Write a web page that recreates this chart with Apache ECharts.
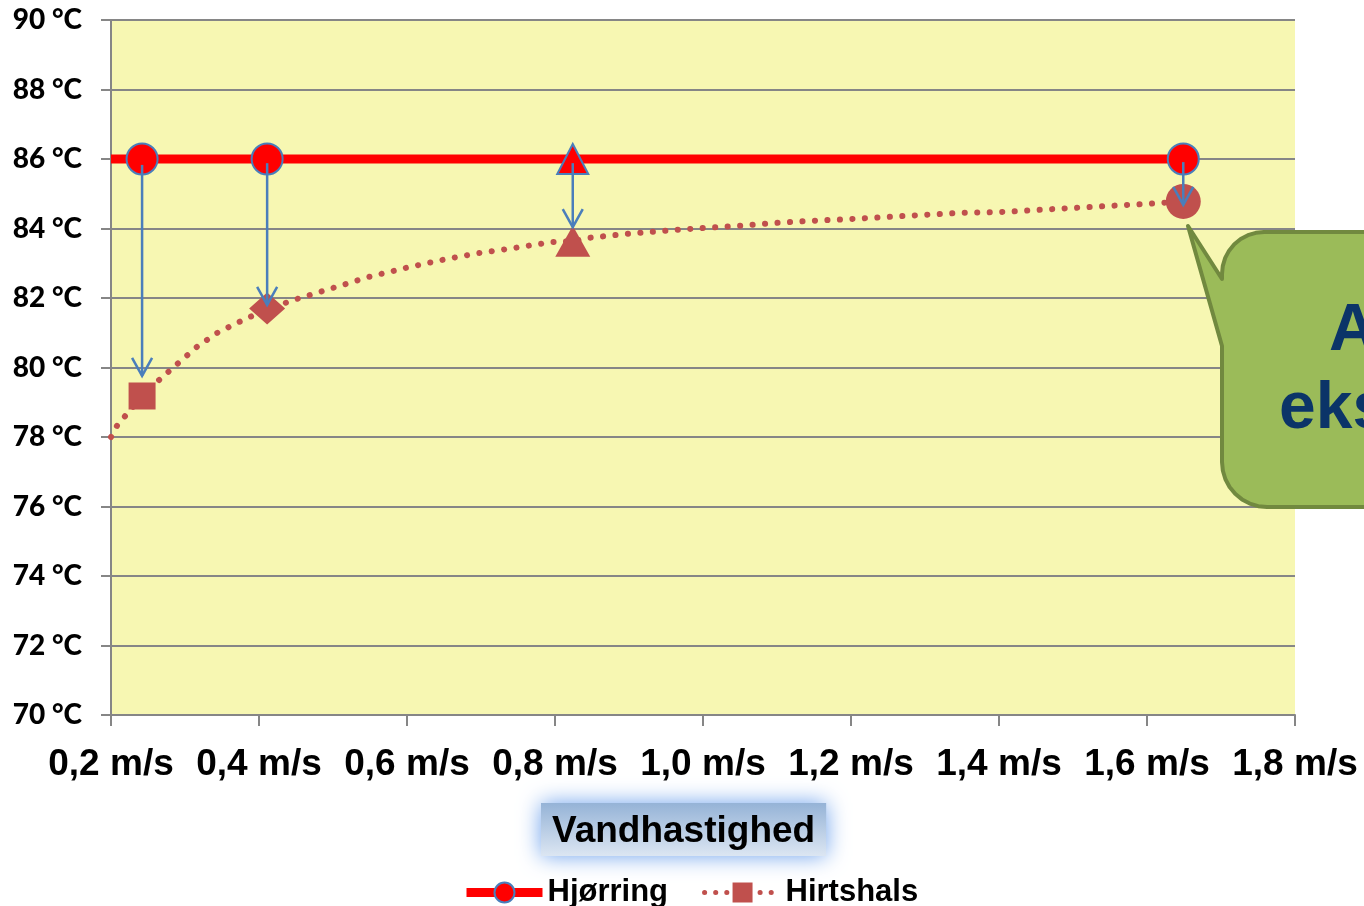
<!DOCTYPE html>
<html lang="da">
<head>
    <meta charset="UTF-8">
    <title>Vandhastighed</title>
    <script src="https://cdn.jsdelivr.net/npm/echarts@6/dist/echarts.min.js"></script>
    <style>
        html, body {
            margin: 0;
            padding: 0;
            background: #fff;
        }

        #chart {
            width: 1364px;
            height: 906px;
        }
    </style>
</head>

<body>
<div id="chart"></div>

<script>
    // målepunkter (vandhastighed i m/s)
    const speeds = [0.242, 0.411, 0.824, 1.649];
    const hjoerring = [86, 86, 86, 86];
    const hirtshals = [79.18, 81.7, 83.63, 84.78];
    const hjoerringSymbols = ['circle', 'circle', 'triangle', 'circle'];
    const hirtshalsSymbols = ['rect', 'diamond', 'triangle', 'circle'];
    const hirtshalsSizes = [27, [36, 32], [35, 31], 35];

    // Hjørring-linjen starter ved aksens begyndelse
    const hjoerringLineStart = [0.2, 86];

    // tendenslinje for Hirtshals
    const trendX = [0.200, 0.208, 0.219, 0.242, 0.265, 0.291, 0.316, 0.343, 0.373, 0.411, 0.451, 0.500,
        0.547, 0.597, 0.646, 0.696, 0.745, 0.795, 0.845, 0.895, 0.946, 0.996, 1.046, 1.096, 1.146, 1.197,
        1.247, 1.297, 1.347, 1.399, 1.449, 1.499, 1.549, 1.600, 1.649];
    const trendY = [78.00, 78.32, 78.60, 79.18, 79.64, 80.13, 80.59, 80.99, 81.31, 81.68, 81.97, 82.29,
        82.60, 82.86, 83.09, 83.29, 83.44, 83.61, 83.73, 83.84, 83.93, 84.01, 84.07, 84.16, 84.22, 84.27,
        84.33, 84.39, 84.45, 84.47, 84.53, 84.59, 84.65, 84.71, 84.78];

    // pile fra Hjørring ned til Hirtshals (°C)
    const arrowFrom = [85.83, 85.88, 85.88, 85.91];
    const arrowTo = [79.76, 81.80, 84.04, 84.68];

    // aksetekster
    const xLabels = ['0,2 m/s', '0,4 m/s', '0,6 m/s', '0,8 m/s', '1,0 m/s', '1,2 m/s', '1,4 m/s', '1,6 m/s', '1,8 m/s'];
    const yLabels = ['70 °C', '72 °C', '74 °C', '76 °C', '78 °C', '80 °C', '82 °C', '84 °C', '86 °C', '88 °C', '90 °C'];

    const axisGray = '#868686';
    const arrowBlue = '#4A7EBB';

    // Hjørring: linje + markører
    const hjoerringData = [{value: hjoerringLineStart, symbol: 'none'}].concat(
        speeds.map((x, i) => ({
            value: [x, hjoerring[i]],
            symbol: hjoerringSymbols[i],
            symbolSize: hjoerringSymbols[i] === 'triangle' ? [31, 30] : 31
        }))
    );

    // Hirtshals: prikket tendenslinje + markører i én serie
    const hirtshalsData = trendX.map((x, i) => ({value: [x, trendY[i]], symbol: 'none'}))
        .concat(speeds.map((x, i) => ({
            value: [x, hirtshals[i]],
            symbol: hirtshalsSymbols[i],
            symbolSize: hirtshalsSizes[i]
        })))
        .sort((a, b) => a.value[0] - b.value[0]);

    // kvartcirkel til de runde hjørner på talebobblen
    function arc(cx, cy, r, a0, a1) {
        const pts = [];
        for (let k = 0; k <= 8; k++) {
            const a = (a0 + (a1 - a0) * k / 8) * Math.PI / 180;
            pts.push([cx + r * Math.cos(a), cy + r * Math.sin(a)]);
        }
        return pts;
    }

    const bubblePoints = [[1420, 232]]
        .concat(arc(1264, 274, 42, -90, -180))
        .concat([[1222, 279], [1188, 226], [1222, 346]])
        .concat(arc(1267, 462, 45, 180, 90))
        .concat([[1420, 507]]);

    const chart = echarts.init(document.getElementById('chart'));
    chart.setOption({
        animation: false,
        backgroundColor: '#fff',
        grid: {
            left: 111,
            right: 69,
            top: 20,
            bottom: 191,
            show: true,
            backgroundColor: '#F7F7B2',
            borderWidth: 0
        },
        title: {
            text: 'Vandhastighed',
            left: 541,
            top: 803,
            padding: [10, 11, 6, 11],
            backgroundColor: {
                type: 'linear', x: 0, y: 0, x2: 0, y2: 1,
                colorStops: [{offset: 0, color: '#95B3D7'}, {offset: 1, color: '#DCE6F2'}]
            },
            shadowBlur: 22,
            shadowColor: 'rgba(100, 155, 235, 0.95)',
            textStyle: {
                fontFamily: 'Liberation Sans, Arial, sans-serif',
                fontSize: 37,
                fontWeight: 'bold',
                color: '#000'
            }
        },
        legend: {
            left: 457,
            top: 872,
            itemWidth: 76,
            itemHeight: 25,
            itemGap: 34,
            textStyle: {
                fontFamily: 'Liberation Sans, Arial, sans-serif',
                fontSize: 31,
                fontWeight: 'bold',
                color: '#000'
            },
            data: [
                {name: 'Hjørring', lineStyle: {width: 9}},
                {name: 'Hirtshals', lineStyle: {width: 5, type: [0.1, 11], cap: 'round'}}
            ]
        },
        xAxis: {
            type: 'value',
            min: 0.2,
            max: 1.8,
            interval: 0.2,
            axisLine: {show: true, lineStyle: {color: axisGray, width: 2}},
            axisTick: {show: true, length: 11, lineStyle: {color: axisGray, width: 2}},
            splitLine: {show: false},
            axisLabel: {
                margin: 31,
                showMinLabel: true,
                showMaxLabel: true,
                fontFamily: 'Liberation Sans, Arial, sans-serif',
                fontSize: 37,
                fontWeight: 'bold',
                color: '#000',
                formatter: v => xLabels[Math.round((v - 0.2) / 0.2)]
            }
        },
        yAxis: {
            type: 'value',
            min: 70,
            max: 90,
            interval: 2,
            axisLine: {show: true, lineStyle: {color: axisGray, width: 2}},
            axisTick: {show: true, length: 10, lineStyle: {color: axisGray, width: 2}},
            splitLine: {show: true, lineStyle: {color: axisGray, width: 2}},
            axisLabel: {
                margin: 29,
                fontFamily: 'Lato, Liberation Sans, sans-serif',
                fontSize: 28,
                fontWeight: 900,
                color: '#000',
                formatter: v => yLabels[Math.round((v - 70) / 2)]
            }
        },
        series: [
            {
                name: 'Hirtshals',
                type: 'line',
                z: 2,
                symbol: 'rect',
                showAllSymbol: true,
                data: hirtshalsData,
                lineStyle: {color: '#C0504D', width: 6, type: [0.1, 12.4], cap: 'round'},
                itemStyle: {color: '#C0504D'}
            },
            {
                name: 'Hjørring',
                type: 'line',
                z: 3,
                symbol: 'circle',
                showAllSymbol: true,
                data: hjoerringData,
                lineStyle: {color: '#FF0000', width: 9},
                itemStyle: {color: '#FF0000', borderColor: arrowBlue, borderWidth: 2}
            },
            {
                // pile
                type: 'custom',
                z: 5,
                silent: true,
                data: speeds.map((x, i) => [x, arrowFrom[i], arrowTo[i]]),
                renderItem: function (params, api) {
                    const x = api.value(0);
                    const p0 = api.coord([x, api.value(1)]);
                    const p1 = api.coord([x, api.value(2)]);
                    const style = {stroke: arrowBlue, lineWidth: 2.5, fill: null};
                    return {
                        type: 'group',
                        children: [
                            {type: 'line', shape: {x1: p0[0], y1: p0[1], x2: p1[0], y2: p1[1]}, style: style},
                            {
                                type: 'polyline',
                                shape: {points: [[p1[0] - 10, p1[1] - 18], [p1[0], p1[1]], [p1[0] + 10, p1[1] - 18]]},
                                style: style
                            }
                        ]
                    };
                }
            }
        ],
        graphic: [
            {
                // talebobbel
                type: 'polygon',
                z: 10,
                shape: {points: bubblePoints},
                style: {fill: '#9BBB59', stroke: '#71893F', lineWidth: 4, lineJoin: 'round'}
            },
            {
                type: 'text',
                z: 11,
                x: 1329,
                y: 332,
                style: {
                    text: 'A',
                    font: 'bold 66px "Liberation Sans", Arial, sans-serif',
                    fill: '#0B3468',
                    verticalAlign: 'middle'
                }
            },
            {
                type: 'text',
                z: 11,
                x: 1279,
                y: 410,
                style: {
                    text: 'eks',
                    font: 'bold 66px "Liberation Sans", Arial, sans-serif',
                    fill: '#0B3468',
                    verticalAlign: 'middle'
                }
            }
        ]
    });
</script>
</body>

</html>
